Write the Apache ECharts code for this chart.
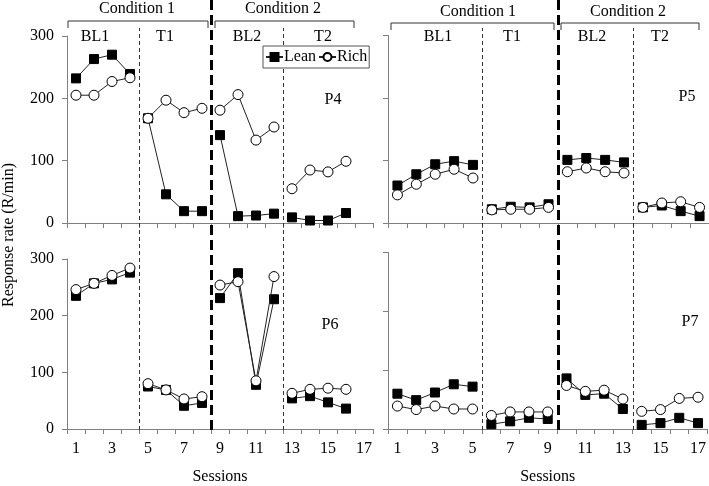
<!DOCTYPE html>
<html>
<head>
<meta charset="utf-8">
<script src="https://cdn.jsdelivr.net/npm/echarts@6/dist/echarts.min.js"></script>
<style>
    html, body { margin: 0; padding: 0; background: #fff; }
    #main { width: 709px; height: 486px; }
</style>
</head>
<body>
<div id="main"></div>
<script>
    var sessions = ['1', '2', '3', '4', '5', '6', '7', '8', '9', '10', '11', '12', '13', '14', '15', '16', '17'];
    // sessions per phase: BL1, T1, BL2, T2
    var phasesLeft = [4, 4, 4, 4];
    var phasesRight = [5, 4, 4, 4];

    var p4Lean = [232, 263, 270, 239, 168, 46, 19, 19, 141, 11, 12, 15, 9, 4, 4, 16];
    var p4Rich = [205, 205, 227, 233, 168, 197, 177, 184, 181, 206, 133, 154, 55, 85, 82, 99];
    var p5Lean = [60, 78, 94, 99, 93, 22, 26, 25, 30, 101, 104, 101, 97, 25, 28, 19, 11];
    var p5Rich = [45, 62, 78, 86, 72, 21, 22, 22, 25, 82, 88, 82, 80, 25, 32, 34, 25];
    var p6Lean = [235, 257, 264, 276, 75, 69, 41, 46, 231, 275, 78, 229, 54, 58, 47, 36];
    var p6Rich = [246, 257, 271, 284, 80, 69, 53, 57, 254, 260, 85, 269, 63, 70, 72, 70];
    var p7Lean = [60, 49, 62, 76, 72, 8, 13, 19, 17, 86, 58, 60, 34, 7, 10, 19, 10];
    var p7Rich = [39, 33, 39, 34, 34, 23, 29, 29, 29, 74, 64, 66, 51, 30, 33, 52, 54];

    var FONT = 'Liberation Serif, Times New Roman, serif';
    var AXIS = '#7f7f7f';

    var panels = [
        { name: 'P4', lean: p4Lean, rich: p4Rich, phases: phasesLeft, box: { left: 67, top: 36, width: 306, height: 187 }, bottom: false, yLabels: true },
        { name: 'P5', lean: p5Lean, rich: p5Rich, phases: phasesRight, box: { left: 388, top: 35.5, width: 321, height: 187.5 }, bottom: false, yLabels: false },
        { name: 'P6', lean: p6Lean, rich: p6Rich, phases: phasesLeft, box: { left: 67, top: 259, width: 306, height: 171 }, bottom: true, yLabels: true },
        { name: 'P7', lean: p7Lean, rich: p7Rich, phases: phasesRight, box: { left: 388, top: 252.5, width: 321, height: 177.5 }, bottom: true, yLabels: false }
    ];

    var grids = [], xAxes = [], yAxes = [], series = [];

    // one line per phase, so lines break between phases
    function phaseSeries(values, phases, name, gi) {
        var start = 0;
        phases.forEach(function (n) {
            var data = sessions.map(function (s, i) {
                return (i >= start && i < start + n && values[i] != null) ? values[i] : '-';
            });
            series.push({
                name: name,
                type: 'line',
                xAxisIndex: gi,
                yAxisIndex: gi,
                data: data,
                symbol: name == 'Lean' ? 'rect' : 'circle',
                symbolSize: name == 'Lean' ? 9 : 10,
                z: name == 'Lean' ? 3 : 4,
                lineStyle: { color: '#222', width: 1 },
                itemStyle: { color: name == 'Lean' ? '#000' : '#fff', borderColor: '#000', borderWidth: 1 },
                emphasis: { disabled: true },
                animation: false
            });
            start += n;
        });
    }

    panels.forEach(function (p, gi) {
        grids.push(p.box);
        xAxes.push({
            type: 'category',
            gridIndex: gi,
            data: sessions,
            boundaryGap: true,
            axisLine: { lineStyle: { color: AXIS, width: 1 } },
            axisTick: { show: true, interval: 0, length: 5, lineStyle: { color: AXIS } },
            axisLabel: { show: p.bottom, interval: 1, margin: 12, color: '#000', fontFamily: FONT, fontSize: 16 },
            name: p.bottom ? 'Sessions' : '',
            nameLocation: 'middle',
            nameGap: 40,
            nameTextStyle: { color: '#000', fontFamily: FONT, fontSize: 16 }
        });
        yAxes.push({
            type: 'value',
            gridIndex: gi,
            min: 0, max: 300, interval: 100,
            axisLine: { show: true, lineStyle: { color: AXIS, width: 1 } },
            axisTick: { show: true, length: 5, lineStyle: { color: AXIS } },
            axisLabel: { show: p.yLabels, margin: 13, color: '#000', fontFamily: FONT, fontSize: 16 },
            splitLine: { show: false }
        });
        phaseSeries(p.lean, p.phases, 'Lean', gi);
        phaseSeries(p.rich, p.phases, 'Rich', gi);
    });

    // overlay grids for the phase-change lines that run through both rows
    var cols = [
        { left: 67, width: 306, phases: phasesLeft },
        { left: 388, width: 321, phases: phasesRight }
    ];
    cols.forEach(function (c) {
        var bounds = [], acc = 0;
        c.phases.forEach(function (n) { acc += n; bounds.push(acc + 0.5); });
        // thick line between conditions, thin lines inside a condition
        [{ top: 0, lines: [bounds[1]], style: { type: [10, 5], width: 3, color: '#000' } },
         { top: 28, lines: [bounds[0], bounds[2]], style: { type: [4, 3], width: 1, color: '#333' } }
        ].forEach(function (o) {
            var gi = grids.length;
            grids.push({ left: c.left, width: c.width, top: o.top, height: 430 - o.top });
            xAxes.push({ type: 'value', gridIndex: gi, min: 0.5, max: 17.5, show: false });
            yAxes.push({ type: 'value', gridIndex: gi, min: 0, max: 1, show: false });
            series.push({
                type: 'line',
                xAxisIndex: gi,
                yAxisIndex: gi,
                data: [],
                z: 1,
                markLine: {
                    silent: true,
                    symbol: 'none',
                    label: { show: false },
                    animation: false,
                    lineStyle: o.style,
                    data: o.lines.map(function (b) { return { xAxis: b }; })
                }
            });
        });
    });

    function txt(text, x, y, size, rot) {
        return {
            type: 'text', x: x, y: y, rotation: rot || 0, z: 20,
            style: { text: text, font: size + 'px ' + FONT, fill: '#000', align: 'center', verticalAlign: 'middle' }
        };
    }
    function bracket(x1, x2, y, y2) {
        return {
            type: 'polyline', z: 20,
            shape: { points: [[x1, y2], [x1, y], [x2, y], [x2, y2]] },
            style: { stroke: '#333', lineWidth: 1, fill: null }
        };
    }

    var graphics = [
        txt('Condition 1', 137, 9, 16), txt('Condition 2', 283, 9, 16),
        txt('Condition 1', 478, 12, 16), txt('Condition 2', 628, 12, 16),
        bracket(68, 208, 21, 28), bracket(215, 354, 21, 28),
        bracket(391, 554, 23, 30), bracket(561, 699, 23, 30),
        txt('BL1', 95, 37, 16), txt('T1', 165, 37, 16), txt('BL2', 247, 37, 16), txt('T2', 323, 37, 16),
        txt('BL1', 438, 37, 16), txt('T1', 512, 37, 16), txt('BL2', 592, 37, 16), txt('T2', 660, 37, 16),
        txt('P4', 333, 100, 16), txt('P5', 687, 97, 16), txt('P6', 330, 325, 16), txt('P7', 690, 322, 16),
        txt('Response rate (R/min)', 9, 235, 16, Math.PI / 2)
    ];

    var chart = echarts.init(document.getElementById('main'), null, { renderer: 'canvas' });
    chart.setOption({
        backgroundColor: '#fff',
        animation: false,
        grid: grids,
        xAxis: xAxes,
        yAxis: yAxes,
        legend: {
            data: ['Lean', 'Rich'],
            left: 263,
            top: 46,
            z: 10,
            padding: [3, 2],
            itemGap: 2,
            itemWidth: 17,
            itemHeight: 10,
            backgroundColor: '#fff',
            borderColor: '#555',
            borderWidth: 1,
            borderRadius: 0,
            selectedMode: false,
            textStyle: { color: '#000', fontFamily: FONT, fontSize: 16, padding: [0, 0, 0, -4] }
        },
        graphic: graphics,
        series: series
    });
</script>
</body>
</html>
